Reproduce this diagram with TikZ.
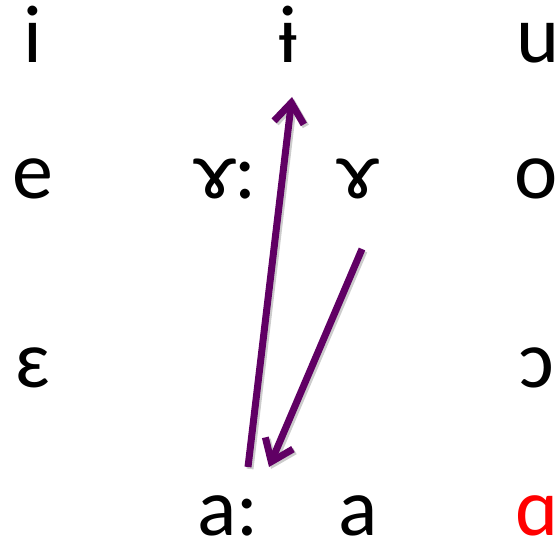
\documentclass[tikz,border=0pt]{standalone}
\usepackage{fontspec}
\setmainfont{Carlito}
\usetikzlibrary{arrows.meta}
\definecolor{arrowpurple}{RGB}{96,0,100}
\definecolor{vowelred}{RGB}{255,0,0}
\tikzset{
  vowel/.style={anchor=base, inner sep=0pt, text depth=0pt, font=\fontsize{82}{82}\selectfont},
  movearrow/.style={draw=arrowpurple, line width=7pt, -{Straight Barb[length=20pt,width=30pt,line width=7pt]}},
  moveshadow/.style={draw=black!20, line width=7pt, -{Straight Barb[length=20pt,width=30pt,line width=7pt]}}
}
\begin{document}
\begin{tikzpicture}[x=1pt,y=1pt]
\useasboundingbox (0,0) rectangle (559,542);
% row 1
\node[vowel] (i) at (33,479) {i};
\node[vowel] (ibar) at (288,479) {ɨ};
\node[vowel] (u) at (538,479) {u};
% row 2
\node[vowel] (e) at (33,344) {e};
\node[vowel] (ramslong) at (226,344) {ɤ:};
\node[vowel] (rams) at (358,344) {ɤ};
\node[vowel] (o) at (536,344) {o};
% row 3
\node[vowel] (eps) at (33,155) {ɛ};
\node[vowel] (oopen) at (537,155) {ɔ};
% row 4
\node[vowel] (along) at (228,7) {a:};
\node[vowel] (a) at (358,7) {a};
\node[vowel, text=vowelred] (alpha) at (537,7) {ɑ};
% arrows
\coordinate (s1) at (248,75);
\coordinate (t1) at (292,445);
\coordinate (s2) at (362,293);
\coordinate (t2) at (269,75);
\draw[moveshadow] ([shift={(2,-2)}]s1) -- ([shift={(2,-2)}]t1);
\draw[moveshadow] ([shift={(2,-2)}]s2) -- ([shift={(2,-2)}]t2);
\draw[movearrow] (s1) -- (t1);
\draw[movearrow] (s2) -- (t2);
\end{tikzpicture}
\end{document}
